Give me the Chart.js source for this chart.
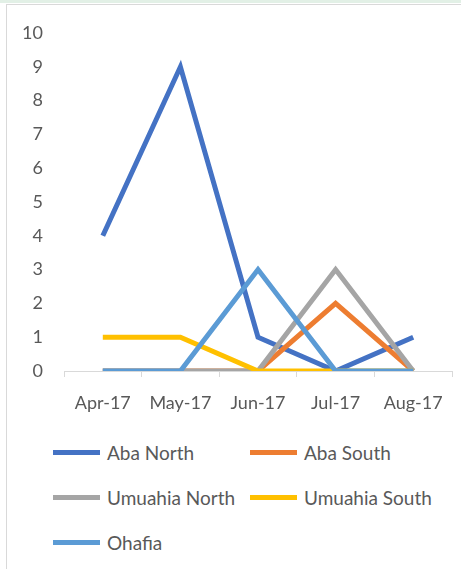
<!DOCTYPE html>
<html>
<head>
<meta charset="utf-8">
<script src="https://cdn.jsdelivr.net/npm/chart.js@4"></script>
<style>
  html, body { margin: 0; padding: 0; background: #fff; }
  body { width: 461px; height: 569px; overflow: hidden; position: relative; font-family: Lato, "Open Sans", sans-serif; }
  #topband { position: absolute; left: 0; top: 0; width: 461px; height: 3px; background: #e2f0e6; }
  #frame { position: absolute; left: 6px; top: 4px; width: 455px; height: 565px; border-left: 1px solid #d9d9d9; border-top: 1px solid #d9d9d9; }
  #wrap { position: absolute; left: 0; top: 0; width: 461px; height: 420px; }
  #legenda { position: absolute; left: 53px; top: 441px; width: 400px; }
  .item { position: absolute; display: flex; align-items: center; font-size: 19px; color: #595959; white-space: nowrap; }
  .item span.linha { display: inline-block; width: 47px; height: 5px; margin-right: 7px; }
</style>
</head>
<body>
<div id="topband"></div>
<div id="frame"></div>
<div id="wrap"><canvas id="grafico"></canvas></div>
<div id="legenda"></div>
<script>
const meses = ["Apr-17", "May-17", "Jun-17", "Jul-17", "Aug-17"];
const nomes = ["Aba North", "Aba South", "Umuahia North", "Umuahia South", "Ohafia"];
const abaNorth = [4, 9, 1, 0, 1];
const abaSouth = [0, 0, 0, 2, 0];
const umuahiaNorth = [0, 0, 0, 3, 0];
const umuahiaSouth = [1, 1, 0, 0, 0];
const ohafia = [0, 0, 3, 0, 0];
const cores = ["#4472C4", "#ED7D31", "#A5A5A5", "#FFC000", "#5B9BD5"];
const valoresY = [0, 1, 2, 3, 4, 5, 6, 7, 8, 9, 10];

const series = [abaNorth, abaSouth, umuahiaNorth, umuahiaSouth, ohafia];

const data = {
    labels: meses,
    datasets: series.map((valores, i) => ({
        label: nomes[i],
        data: valores,
        borderColor: cores[i],
        backgroundColor: cores[i],
        borderWidth: 5,
        pointRadius: 0,
        tension: 0,
        // a última série fica por cima, como no Excel
        order: series.length - i,
    })),
};

const fonte = { family: "Lato", size: 18 };

const options = {
    responsive: true,
    maintainAspectRatio: false,
    animation: false,
    layout: { padding: { top: 33, right: 9, left: 0, bottom: 0 } },
    plugins: {
        legend: { display: false },
        tooltip: { enabled: false },
    },
    scales: {
        x: {
            offset: true,
            grid: {
                offset: true,
                drawOnChartArea: false,
                drawTicks: true,
                tickLength: 6,
                color: "#d9d9d9",
            },
            border: { display: true, color: "#d9d9d9", width: 1 },
            ticks: { color: "#595959", font: fonte, padding: 15, maxRotation: 0 },
            afterFit: (scale) => { scale.height = 49; },
        },
        y: {
            min: 0,
            max: 10,
            afterBuildTicks: (scale) => { scale.ticks = valoresY.map((v) => ({ value: v })); },
            grid: { display: false, drawTicks: false },
            border: { display: false },
            ticks: { color: "#595959", font: fonte, padding: 21, stepSize: 1 },
            afterFit: (scale) => { scale.width = 64; },
        },
    },
};

const grafico = new Chart(document.getElementById("grafico"), {
    type: "line",
    data: data,
    options: options,
});

// legenda em duas colunas, como no Excel
const legenda = document.getElementById("legenda");
const posicoes = [[0, 0], [197, 0], [0, 45], [197, 45], [0, 90]];
data.datasets.forEach((ds, i) => {
    const div = document.createElement("div");
    div.className = "item";
    div.style.left = posicoes[i][0] + "px";
    div.style.top = posicoes[i][1] + "px";
    div.innerHTML = '<span class="linha" style="background:' + ds.borderColor + '"></span>' + ds.label;
    legenda.appendChild(div);
});
</script>
</body>
</html>
